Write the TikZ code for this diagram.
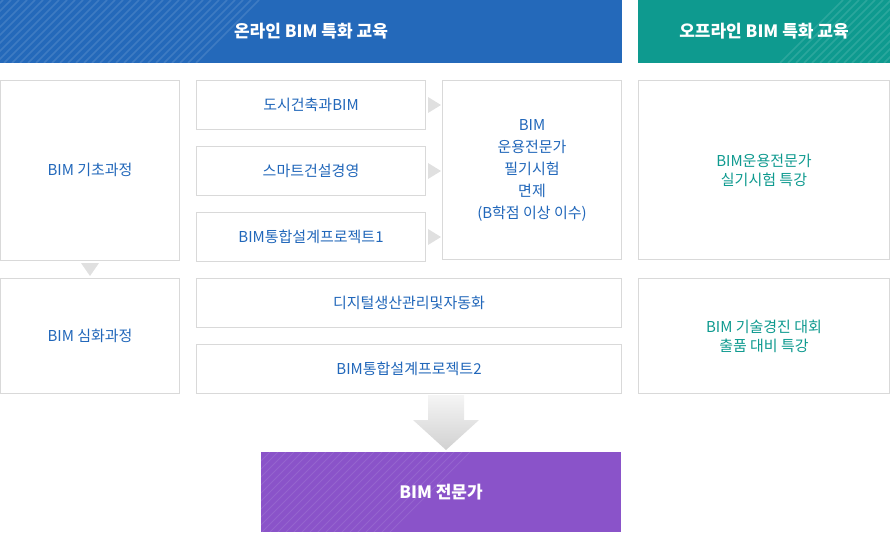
\documentclass[tikz,border=0pt]{standalone}
\usepackage{fontspec}
\setmainfont{Noto Sans CJK KR}
\begin{document}
\begin{tikzpicture}[x=1pt,y=-1pt,
  box/.style={draw=black!15,line width=1pt,fill=white},
  bt/.style={text=blueT,font=\fontsize{15}{19}\selectfont,align=center},
  tt/.style={text=tealT,font=\fontsize{15}{19}\selectfont,align=center},
  hd/.style={text=white,font=\fontsize{17}{20}\selectfont\bfseries,align=center},
  tri/.style={fill=black!12,draw=none}]
\definecolor{blueH}{HTML}{2469BA}\definecolor{tealH}{HTML}{0E9A8F}
\definecolor{purH}{HTML}{8A53C9}\definecolor{blueT}{HTML}{2167BA}\colorlet{tealT}{tealH}
\useasboundingbox (0,0) rectangle (890,532);
% headers
\fill[blueH] (0,0) rectangle (622,63);
\begin{scope}\clip (0,0) rectangle (622,63);
\foreach \i in {-60,-52,...,200}{\draw[white,opacity=0.12,line width=1.5pt] (\i,63)--(\i+63,0);}
\end{scope}
\node[hd] (h1) at (311,31) {온라인 BIM 특화 교육};
\fill[tealH] (638,0) rectangle (890,63);
\begin{scope}\clip (638,0) rectangle (890,63);
\foreach \i in {780,788,...,900}{\draw[white,opacity=0.12,line width=1.5pt] (\i,63)--(\i+63,0);}
\end{scope}
\node[hd] (h2) at (764,31) {오프라인 BIM 특화 교육};
% boxes
\draw[box] (0.5,80.5) rectangle (179.5,260.5); \node[bt] (a) at (90,170) {BIM 기초과정};
\draw[box] (0.5,278.5) rectangle (179.5,393.5); \node[bt] (b) at (90,336) {BIM 심화과정};
\draw[box] (196.5,80.5) rectangle (425.5,129.5); \node[bt] (m1) at (311,105) {도시건축과BIM};
\draw[box] (196.5,146.5) rectangle (425.5,195.5); \node[bt] (m2) at (311,171) {스마트건설경영};
\draw[box] (196.5,212.5) rectangle (425.5,261.5); \node[bt] (m3) at (311,237) {BIM통합설계프로젝트1};
\draw[box] (442.5,80.5) rectangle (621.5,259.5);
\node[bt,font=\fontsize{15}{22}\selectfont] (c) at (532,170) {BIM\\운용전문가\\필기시험\\면제\\(B학점 이상 이수)};
\draw[box] (196.5,278.5) rectangle (621.5,327.5); \node[bt] (d1) at (409,303) {디지털생산관리및자동화};
\draw[box] (196.5,344.5) rectangle (621.5,393.5); \node[bt] (d2) at (409,369) {BIM통합설계프로젝트2};
\draw[box] (638.5,80.5) rectangle (889.5,259.5); \node[tt] (r1) at (764,170) {BIM운용전문가\\실기시험 특강};
\draw[box] (638.5,278.5) rectangle (889.5,393.5); \node[tt] (r2) at (764,336) {BIM 기술경진 대회\\출품 대비 특강};
% triangles
\foreach \y in {105,171,237}{\fill[tri] (428,\y-8)--(441,\y)--(428,\y+8)--cycle;}
\fill[tri] (81,263)--(99,263)--(90,276)--cycle;
% big arrow
\shade[top color=black!4,bottom color=black!18] (428,395)--(464,395)--(464,420)--(479,420)--(446,450)--(413,420)--(428,420)--cycle;
% purple
\fill[purH] (261,452) rectangle (621,532);
\begin{scope}\clip (261,452) rectangle (621,532);
\foreach \i in {190,198,...,390}{\draw[white,opacity=0.1,line width=1pt] (\i,532)--(\i+80,452);}
\end{scope}
\node[hd] (e) at (441,492) {BIM 전문가};
\end{tikzpicture}
\end{document}
